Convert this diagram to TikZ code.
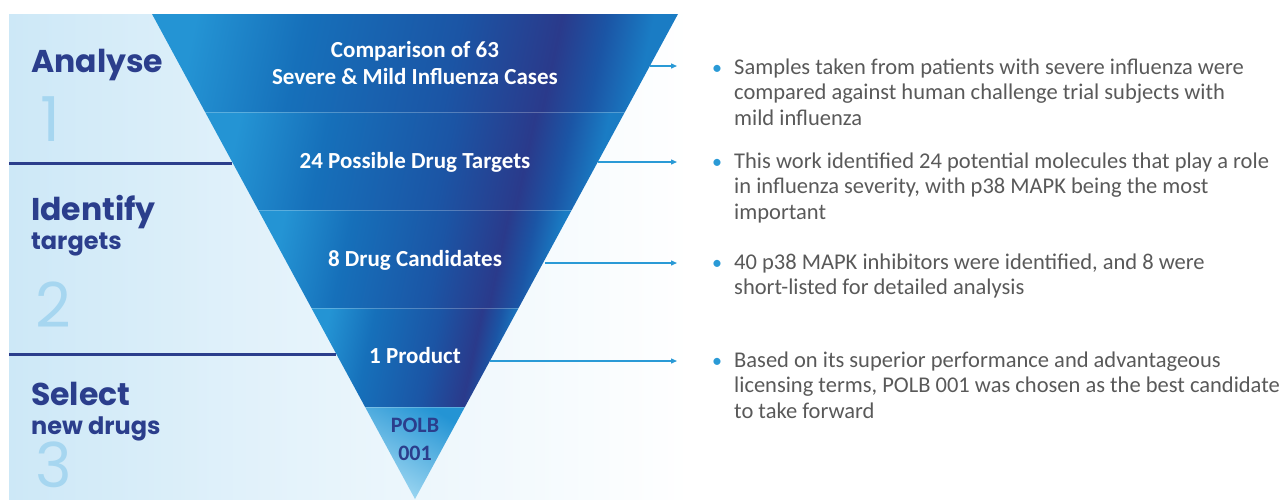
\documentclass[tikz,border=0pt]{standalone}
\usepackage{fontspec}
\setmainfont{Carlito}
\newfontfamily\headfont{Poppins}
\usetikzlibrary{arrows.meta}
\definecolor{navy}{HTML}{2B3E8C}
\definecolor{paleblue}{HTML}{A6D6F0}
\definecolor{panelblue}{HTML}{CDE8F7}
\definecolor{arrowblue}{HTML}{2A9AD6}
\definecolor{bodygray}{HTML}{595959}
\definecolor{fLight}{HTML}{2494D4}
\definecolor{fMid}{HTML}{1670BA}
\definecolor{fDeep}{HTML}{1B55A5}
\definecolor{fDark}{HTML}{2A3A8B}
\definecolor{fRight}{HTML}{1A7CC4}
\definecolor{tipLight}{HTML}{A3DAF3}
\pgfdeclarehorizontalshading{bandshade}{100bp}{color(0bp)=(fLight); color(25bp)=(fLight); color(37bp)=(fMid); color(54bp)=(fDeep); color(65bp)=(fDark); color(70bp)=(fDeep); color(75bp)=(fRight); color(100bp)=(fRight)}
\pgfdeclarehorizontalshading{panelshade}{100bp}{color(0bp)=(panelblue); color(25bp)=(panelblue); color(45bp)=(panelblue!55); color(75bp)=(white); color(100bp)=(white)}
\begin{document}
\begin{tikzpicture}[x=1pt,y=-1pt,
  funneltext/.style={text=white,font=\bfseries\fontsize{23}{27}\selectfont,anchor=base,inner sep=0},
  tiptext/.style={text=navy,font=\bfseries\fontsize{22}{26}\selectfont,anchor=base,inner sep=0},
  headtext/.style={text=navy,font=\headfont\bfseries\fontsize{31.5}{36}\selectfont,anchor=base west,inner sep=0},
  subtext/.style={text=navy,font=\headfont\bfseries\fontsize{24}{28}\selectfont,anchor=base west,inner sep=0},
  numtext/.style={text=paleblue,font=\headfont\fontsize{62}{62}\selectfont,anchor=base west,inner sep=0},
  bodytext/.style={text=bodygray,font=\fontsize{22.5}{25.5}\selectfont,align=left,anchor=base west,inner sep=0},
  dotmark/.style={text=arrowblue,font=\fontsize{20}{25}\selectfont,anchor=base west,inner sep=0},
  stepline/.style={navy,line width=3pt},
  outarrow/.style={arrowblue,line width=1.3pt,-{Triangle[length=6pt,width=5pt]}}]
  \useasboundingbox (0,0) rectangle (1283,499);
  % panel behind the funnel
  \shade[shading=panelshade] (9,14) rectangle (690,499);
  % funnel bands
  \shade[shading=bandshade,shading angle=-12] (152,14) -- (678,14) -- (624.9,112) -- (205.1,112) -- cycle;
  \shade[shading=bandshade,shading angle=-12] (205.1,112) -- (624.9,112) -- (571.7,210) -- (258.3,210) -- cycle;
  \shade[shading=bandshade,shading angle=-12] (258.3,210) -- (571.7,210) -- (518.6,308) -- (311.4,308) -- cycle;
  \shade[shading=bandshade,shading angle=-12] (311.4,308) -- (518.6,308) -- (464.9,407) -- (365.1,407) -- cycle;
  \shade[left color=fLight,right color=tipLight,shading angle=-30] (365.1,407) -- (464.9,407) -- (415,499) -- cycle;
  \draw[white,opacity=.25,line width=.8pt] (205.1,112) -- (624.9,112) (258.3,210) -- (571.7,210) (311.4,308) -- (518.6,308) (365.1,407) -- (464.9,407);
  % funnel labels
  \node[funneltext] (comp) at (415,57) {Comparison of 63};
  \node[funneltext] (cases) at (415,84) {Severe \& Mild Influenza Cases};
  \node[funneltext] (targets) at (415,168) {24 Possible Drug Targets};
  \node[funneltext] (cands) at (415,266) {8 Drug Candidates};
  \node[funneltext] (product) at (415,363) {1 Product};
  \node[tiptext] (polb) at (415,432) {POLB};
  \node[tiptext] (polbnum) at (415,460) {001};
  % stages on the left
  \coordinate (sep1a) at (9,163); \coordinate (sep1b) at (232,163);
  \coordinate (sep2a) at (9,354); \coordinate (sep2b) at (336,354);
  \draw[stepline] (sep1a) -- (sep1b);
  \draw[stepline] (sep2a) -- (sep2b);
  \node[headtext] (analyse) at (31,72) {Analyse};
  \node[numtext] (one) at (40,141) {1};
  \node[headtext] (identify) at (31,220) {Identify};
  \node[subtext] (idtargets) at (31,249) {targets};
  \node[numtext] (two) at (35,327) {2};
  \node[headtext] (select) at (31,405) {Select};
  \node[subtext] (newdrugs) at (31,434) {new drugs};
  \node[numtext] (three) at (35,487) {3};
  % arrows out to the notes
  \coordinate (a1s) at (650,66); \coordinate (a1e) at (677,66);
  \coordinate (a2s) at (598,162); \coordinate (a2e) at (677,162);
  \coordinate (a3s) at (545,263); \coordinate (a3e) at (677,263);
  \coordinate (a4s) at (490,361); \coordinate (a4e) at (677,361);
  \foreach \i in {1,...,4} \draw[outarrow] (a\i s) -- (a\i e);
  % notes (base anchor sits on the last line)
  \node[dotmark] (b1) at (712,74) {•};
  \node[bodytext] (note1) at (734,125) {Samples taken from patients with severe influenza were\\compared against human challenge trial subjects with\\mild influenza};
  \node[dotmark] (b2) at (712,168) {•};
  \node[bodytext] (note2) at (734,219) {This work identified 24 potential molecules that play a role\\in influenza severity, with p38 MAPK being the most\\important};
  \node[dotmark] (b3) at (712,269) {•};
  \node[bodytext] (note3) at (734,294.5) {40 p38 MAPK inhibitors were identified, and 8 were\\short-listed for detailed analysis};
  \node[dotmark] (b4) at (712,367) {•};
  \node[bodytext] (note4) at (734,418) {Based on its superior performance and advantageous\\licensing terms, POLB 001 was chosen as the best candidate\\to take forward};
\end{tikzpicture}
\end{document}
